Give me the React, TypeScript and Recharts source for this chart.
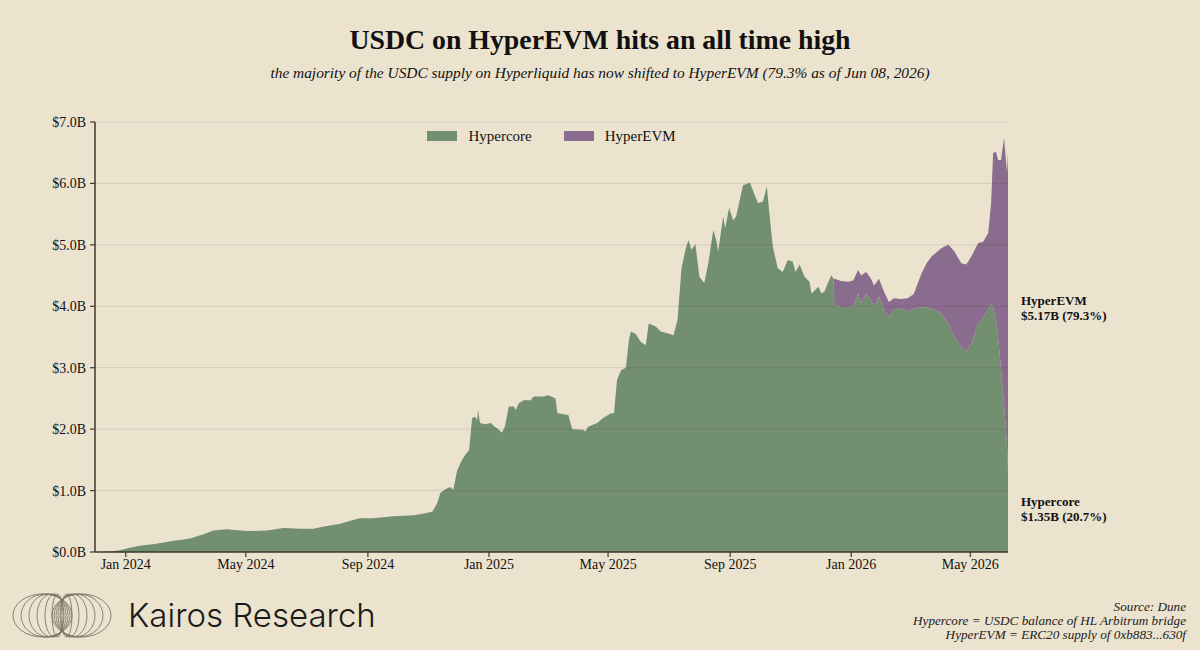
import React from 'react';
import { ComposedChart, Area, XAxis, YAxis, ReferenceLine, ReferenceDot, Legend } from 'recharts';

const dates = [
  '2023-12-07','2023-12-16','2023-12-26','2024-01-03','2024-01-15','2024-01-30','2024-02-17','2024-03-06','2024-03-23','2024-03-29',
  '2024-04-12','2024-04-20','2024-05-02','2024-05-22','2024-06-08','2024-06-25','2024-07-08','2024-07-20','2024-08-04','2024-08-17',
  '2024-08-24','2024-09-06','2024-09-27','2024-10-17','2024-10-29','2024-11-05','2024-11-08','2024-11-10','2024-11-13','2024-11-18',
  '2024-11-23','2024-11-26','2024-11-30','2024-12-05','2024-12-08','2024-12-12','2024-12-15','2024-12-18','2024-12-20','2024-12-21',
  '2024-12-23','2024-12-28','2025-01-03','2025-01-06','2025-01-11','2025-01-14','2025-01-17','2025-01-21','2025-01-26','2025-01-28',
  '2025-01-31','2025-02-05','2025-02-12','2025-02-15','2025-02-25','2025-03-02','2025-03-09','2025-03-11','2025-03-22','2025-03-26',
  '2025-04-06','2025-04-08','2025-04-11','2025-04-20','2025-04-26','2025-05-04','2025-05-07','2025-05-10','2025-05-14','2025-05-19',
  '2025-05-22','2025-05-24','2025-05-29','2025-06-03','2025-06-08','2025-06-11','2025-06-18','2025-06-23','2025-06-30','2025-07-06',
  '2025-07-10','2025-07-14','2025-07-18','2025-07-21','2025-07-24','2025-07-28','2025-08-01','2025-08-06','2025-08-10','2025-08-15',
  '2025-08-18','2025-08-20','2025-08-25','2025-08-27','2025-08-31','2025-09-04','2025-09-07','2025-09-14','2025-09-21','2025-09-25',
  '2025-09-29','2025-10-04','2025-10-08','2025-10-10','2025-10-14','2025-10-19','2025-10-24','2025-10-29','2025-11-03','2025-11-06',
  '2025-11-10','2025-11-15','2025-11-20','2025-11-22','2025-11-29','2025-12-02','2025-12-05','2025-12-12','2025-12-14','2025-12-15',
  '2025-12-22','2025-12-29','2026-01-03','2026-01-08','2026-01-11','2026-01-16','2026-01-21','2026-01-24','2026-01-29','2026-02-03',
  '2026-02-08','2026-02-13','2026-02-20','2026-02-27','2026-03-05','2026-03-13','2026-03-18','2026-03-23','2026-04-02','2026-04-09',
  '2026-04-15','2026-04-22','2026-04-27','2026-05-02','2026-05-09','2026-05-14','2026-05-19','2026-05-22','2026-05-24','2026-05-27',
  '2026-05-29','2026-06-01','2026-06-04','2026-06-07','2026-06-08',
];

const hypercore = [
  0.0, 0.01, 0.03, 0.06, 0.10, 0.13, 0.18, 0.22, 0.31, 0.35,
  0.37, 0.36, 0.34, 0.35, 0.39, 0.38, 0.38, 0.42, 0.46, 0.52,
  0.55, 0.55, 0.58, 0.60, 0.63, 0.66, 0.74, 0.80, 0.96, 1.02,
  1.06, 1.01, 1.33, 1.50, 1.58, 1.66, 2.18, 2.20, 2.15, 2.31,
  2.10, 2.08, 2.10, 2.05, 1.99, 1.94, 2.04, 2.37, 2.37, 2.31,
  2.42, 2.47, 2.47, 2.53, 2.53, 2.55, 2.50, 2.26, 2.23, 2.00,
  1.99, 1.96, 2.04, 2.10, 2.18, 2.26, 2.26, 2.80, 2.96, 3.00,
  3.45, 3.59, 3.55, 3.42, 3.37, 3.72, 3.67, 3.59, 3.56, 3.53,
  3.78, 4.62, 4.92, 5.08, 4.92, 5.01, 4.48, 4.38, 4.70, 5.24,
  5.08, 4.89, 5.46, 5.27, 5.60, 5.40, 5.46, 5.97, 6.01, 5.84,
  5.68, 5.70, 5.95, 5.60, 4.97, 4.62, 4.56, 4.75, 4.73, 4.56,
  4.68, 4.48, 4.40, 4.21, 4.32, 4.21, 4.24, 4.51, 4.45, 4.03,
  3.99, 3.99, 4.00, 4.21, 4.05, 4.21, 4.10, 3.99, 4.16, 3.94,
  3.83, 3.94, 3.96, 3.92, 3.96, 3.99, 3.98, 3.96, 3.88, 3.72,
  3.50, 3.34, 3.26, 3.40, 3.72, 3.81, 3.94, 4.05, 3.99, 3.78,
  3.50, 2.96, 2.42, 1.71, 1.35,
];

const hyperevm = [
  0, 0, 0, 0, 0, 0, 0, 0, 0, 0,
  0, 0, 0, 0, 0, 0, 0, 0, 0, 0,
  0, 0, 0, 0, 0, 0, 0, 0, 0, 0,
  0, 0, 0, 0, 0, 0, 0, 0, 0, 0,
  0, 0, 0, 0, 0, 0, 0, 0, 0, 0,
  0, 0, 0, 0, 0, 0, 0, 0, 0, 0,
  0, 0, 0, 0, 0, 0, 0, 0, 0, 0,
  0, 0, 0, 0, 0, 0, 0, 0, 0, 0,
  0, 0, 0, 0, 0, 0, 0, 0, 0, 0,
  0, 0, 0, 0, 0, 0, 0, 0, 0, 0,
  0, 0, 0, 0, 0, 0, 0, 0, 0, 0,
  0, 0, 0, 0, 0, 0, 0, 0, 0, 0.42,
  0.42, 0.41, 0.42, 0.38, 0.45, 0.35, 0.35, 0.35, 0.29, 0.30,
  0.24, 0.19, 0.16, 0.21, 0.24, 0.55, 0.72, 0.85, 1.07, 1.28,
  1.39, 1.36, 1.42, 1.41, 1.31, 1.24, 1.25, 1.63, 2.51, 2.73,
  2.88, 3.42, 4.32, 4.46, 5.17,
];

const seriesNames = ['Hypercore', 'HyperEVM'];
const seriesColors = ['#728f70', '#8a6c8e'];

const xTickDates = ['2024-01-01', '2024-05-01', '2024-09-01', '2025-01-01', '2025-05-01', '2025-09-01', '2026-01-01', '2026-05-01'];
const xTickLabels = ['Jan 2024', 'May 2024', 'Sep 2024', 'Jan 2025', 'May 2025', 'Sep 2025', 'Jan 2026', 'May 2026'];
const yTicks = [0, 1, 2, 3, 4, 5, 6, 7];
const xDomainDates = ['2023-12-01', '2026-06-08'];

const BG = '#ece3cf';
const INK = '#111';
const AXIS = '#40372c';
const SERIF = '"Liberation Serif", "Times New Roman", serif';

const EPOCH = Date.parse('2024-01-01');
const toDay = (s: string) => Math.round((Date.parse(s) - EPOCH) / 86400000);

const data = dates.map((d, i) => ({ day: toDay(d), hypercore: hypercore[i], hyperevm: hyperevm[i] }));
const xTicks = xTickDates.map(toDay);
const tickLabelMap: Record<number, string> = {};
xTicks.forEach((t, i) => { tickLabelMap[t] = xTickLabels[i]; });

const last = data[data.length - 1];
const lastTotal = last.hypercore + last.hyperevm;
const fmtB = (v: number) => `$${v.toFixed(2)}B`;
const pct = (v: number) => `${((v / lastTotal) * 100).toFixed(1)}%`;

const EndLabel = (props: any) => {
  const { cx, cy, title, line } = props;
  return (
    <g>
      <text x={cx + 13} y={cy - 5} fontFamily={SERIF} fontWeight="bold" fontSize={13} fill={INK}>{title}</text>
      <text x={cx + 13} y={cy + 10} fontFamily={SERIF} fontWeight="bold" fontSize={13} fill={INK}>{line}</text>
    </g>
  );
};

const LegendContent = () => (
  <div style={{ display: 'flex', justifyContent: 'center', alignItems: 'center', fontFamily: SERIF, fontSize: 15, color: INK, height: 20 }}>
    {seriesNames.map((n, i) => (
      <div key={n} style={{ display: 'flex', alignItems: 'center', marginLeft: i === 0 ? 0 : 32 }}>
        <div style={{ width: 30, height: 10, background: seriesColors[i], marginRight: 11 }} />
        <span>{n}</span>
      </div>
    ))}
  </div>
);

const Logo = () => {
  const cy = 615.5;
  const ry = 21.5;
  const lefts = [13, 21, 29, 37, 45, 52];
  const rights = [72, 70, 68, 66, 64, 63];
  const ells: { l: number; r: number }[] = [];
  lefts.forEach((l, i) => ells.push({ l, r: rights[i] }));
  lefts.forEach((l, i) => ells.push({ l: 124 - rights[i], r: 124 - l }));
  return (
    <g>
      {ells.map((e, i) => (
        <ellipse key={i} cx={(e.l + e.r) / 2} cy={cy} rx={(e.r - e.l) / 2} ry={ry} fill="none" stroke="#7e7465" strokeWidth={0.9} />
      ))}
      <text x={128} y={627} fontFamily="Inter, 'Noto Sans', sans-serif" fontWeight={300} fontSize={33} fill="#1a1a1a">Kairos Research</text>
    </g>
  );
};

export default function App() {
  return (
    <div style={{ position: 'absolute', left: 0, top: 0, width: 1200, height: 650, background: BG, overflow: 'hidden' }}>
      <ComposedChart
        width={1200}
        height={650}
        data={data}
        margin={{ top: 102, right: 192, bottom: 68, left: 0 }}
      >
        <XAxis
          dataKey="day"
          type="number"
          domain={[toDay(xDomainDates[0]), toDay(xDomainDates[1])]}
          ticks={xTicks}
          tickFormatter={(v: number) => tickLabelMap[v] ?? ''}
          tick={{ fontFamily: SERIF, fontSize: 14, fill: INK }}
          tickSize={5}
          tickLine={{ stroke: AXIS, strokeWidth: 1.2 }}
          axisLine={{ stroke: AXIS, strokeWidth: 1.5 }}
          height={30}
          allowDataOverflow
        />
        <YAxis
          type="number"
          domain={[0, 7]}
          ticks={yTicks}
          tickFormatter={(v: number) => `$${v.toFixed(1)}B`}
          tick={{ fontFamily: SERIF, fontSize: 14, fill: INK }}
          tickSize={5}
          tickMargin={4}
          tickLine={{ stroke: AXIS, strokeWidth: 1.2 }}
          axisLine={{ stroke: AXIS, strokeWidth: 1.5 }}
          width={95}
          allowDataOverflow
        />
        <Legend verticalAlign="top" content={<LegendContent />} wrapperStyle={{ top: 126, left: 95, width: 913 }} />
        <Area type="linear" dataKey="hypercore" name="Hypercore" stackId="s" stroke="none" fill={seriesColors[0]} fillOpacity={1} isAnimationActive={false} />
        <Area type="linear" dataKey="hyperevm" name="HyperEVM" stackId="s" stroke="none" fill={seriesColors[1]} fillOpacity={1} isAnimationActive={false} />
        {yTicks.filter((t) => t > 0).map((t) => (
          <ReferenceLine key={t} y={t} stroke="#3a2f20" strokeOpacity={0.13} strokeWidth={1} />
        ))}
        <ReferenceDot
          x={last.day}
          y={last.hypercore + last.hyperevm / 2}
          ifOverflow="visible"
          shape={(p: any) => <EndLabel {...p} title="HyperEVM" line={`${fmtB(last.hyperevm)} (${pct(last.hyperevm)})`} />}
        />
        <ReferenceDot
          x={last.day}
          y={last.hypercore / 2}
          ifOverflow="visible"
          shape={(p: any) => <EndLabel {...p} title="Hypercore" line={`${fmtB(last.hypercore)} (${pct(last.hypercore)})`} />}
        />
      </ComposedChart>
      <svg width={1200} height={650} style={{ position: 'absolute', left: 0, top: 0, pointerEvents: 'none' }}>
        <text x={600} y={49} textAnchor="middle" fontFamily={SERIF} fontWeight="bold" fontSize={27.8} fill={INK}>USDC on HyperEVM hits an all time high</text>
        <text x={600} y={78} textAnchor="middle" fontFamily={SERIF} fontStyle="italic" fontSize={15.4} fill={INK}>the majority of the USDC supply on Hyperliquid has now shifted to HyperEVM (79.3% as of Jun 08, 2026)</text>
        <Logo />
        <g fontFamily={SERIF} fontStyle="italic" fontSize={13.2} fill="#222" textAnchor="end">
          <text x={1186} y={611}>Source: Dune</text>
          <text x={1186} y={625}>Hypercore = USDC balance of HL Arbitrum bridge</text>
          <text x={1186} y={639}>HyperEVM = ERC20 supply of 0xb883...630f</text>
        </g>
      </svg>
    </div>
  );
}
